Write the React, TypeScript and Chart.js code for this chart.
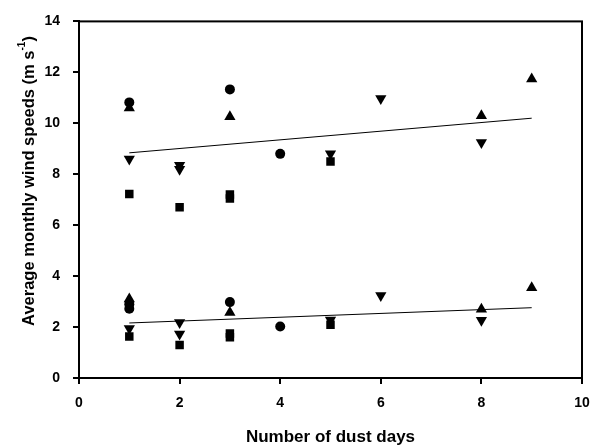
import React, { useEffect, useRef } from "react";
import { Chart, registerables } from "chart.js";

Chart.register(...registerables);

// Data
const circleX = [1, 3, 4, 1, 1, 3, 4];
const circleY = [10.82, 11.33, 8.8, 2.9, 2.72, 2.98, 2.02];

const triUpX = [1, 3, 8, 9, 1, 3, 8, 9];
const triUpY = [10.6, 10.26, 10.3, 11.74, 3.1, 2.57, 2.7, 3.54];

const triDownX = [1, 2, 2, 5, 6, 8, 1, 2, 2, 5, 6, 8];
const triDownY = [8.6, 8.35, 8.2, 8.8, 10.97, 9.25, 1.94, 2.18, 1.73, 2.28, 3.24, 2.27];

const squareX = [1, 2, 3, 3, 5, 1, 2, 3, 3, 5];
const squareY = [7.22, 6.7, 7.2, 7.05, 8.5, 1.63, 1.3, 1.75, 1.6, 2.09];

const upperFitX = [1, 9];
const upperFitY = [8.84, 10.2];
const lowerFitX = [1, 9];
const lowerFitY = [2.16, 2.76];

const xTicks = [0, 2, 4, 6, 8, 10];
const yTicks = [0, 2, 4, 6, 8, 10, 12, 14];

const xTitle = "Number of dust days";
const yTitleMain = "Average monthly wind speeds (m s";
const yTitleSup = "-1";
const yTitleEnd = ")";

const pts = (xs: number[], ys: number[]) => xs.map((x, i) => ({ x, y: ys[i] }));

const FONT = "'Liberation Sans', Arial, sans-serif";

export default function App() {
  const ref = useRef<HTMLCanvasElement>(null);

  useEffect(() => {
    if (!ref.current) return;

    const framePlugin = {
      id: "frame",
      afterDatasetsDraw(chart: any) {
        const { ctx, chartArea } = chart;
        ctx.save();
        ctx.strokeStyle = "#000";
        ctx.lineWidth = 2;
        ctx.strokeRect(chartArea.left, chartArea.top, chartArea.right - chartArea.left, chartArea.bottom - chartArea.top);
        ctx.restore();
      },
      afterDraw(chart: any) {
        const { ctx, chartArea } = chart;
        ctx.save();
        ctx.fillStyle = "#000";
        // x title
        ctx.font = `bold 17px ${FONT}`;
        ctx.textAlign = "center";
        ctx.textBaseline = "middle";
        ctx.fillText(xTitle, (chartArea.left + chartArea.right) / 2, 437);
        // y title with superscript
        ctx.translate(29, 181);
        ctx.rotate(-Math.PI / 2);
        const mainFont = `bold 16.5px ${FONT}`;
        const supFont = `bold 10px ${FONT}`;
        ctx.font = mainFont;
        const w1 = ctx.measureText(yTitleMain).width;
        const w3 = ctx.measureText(yTitleEnd).width;
        ctx.font = supFont;
        const w2 = ctx.measureText(yTitleSup).width;
        const total = w1 + w2 + w3;
        let x = -total / 2;
        ctx.textAlign = "left";
        ctx.font = mainFont;
        ctx.fillText(yTitleMain, x, 0);
        x += w1;
        ctx.font = supFont;
        ctx.fillText(yTitleSup, x, -7);
        x += w2;
        ctx.font = mainFont;
        ctx.fillText(yTitleEnd, x, 0);
        ctx.restore();
      },
    };

    const marker = { backgroundColor: "#000", borderColor: "#000", borderWidth: 0, showLine: false };

    const chart = new Chart(ref.current, {
      type: "scatter",
      data: {
        datasets: [
          { label: "fit upper", data: pts(upperFitX, upperFitY), showLine: true, borderColor: "#000", borderWidth: 1, pointRadius: 0, fill: false },
          { label: "fit lower", data: pts(lowerFitX, lowerFitY), showLine: true, borderColor: "#000", borderWidth: 1, pointRadius: 0, fill: false },
          { label: "circle", data: pts(circleX, circleY), pointStyle: "circle", pointRadius: 5, ...marker },
          { label: "triangle up", data: pts(triUpX, triUpY), pointStyle: "triangle", pointRadius: 6.5, ...marker },
          { label: "triangle down", data: pts(triDownX, triDownY), pointStyle: "triangle", pointRotation: 180, pointRadius: 6.5, ...marker },
          { label: "square", data: pts(squareX, squareY), pointStyle: "rect", pointRadius: 6, ...marker },
        ] as any,
      },
      options: {
        animation: false,
        responsive: false,
        events: [],
        layout: { padding: { top: 17, right: 20, left: 0, bottom: 0 } },
        plugins: { legend: { display: false }, tooltip: { enabled: false } },
        scales: {
          x: {
            type: "linear",
            min: 0,
            max: 10,
            afterBuildTicks: (s: any) => { s.ticks = xTicks.map((v) => ({ value: v })); },
            afterFit: (s: any) => { s.height = 67; },
            grid: { drawOnChartArea: false, drawTicks: true, tickLength: 6, color: "#000", lineWidth: 2 },
            border: { display: true, color: "#000", width: 2 },
            ticks: { color: "#000", font: { family: FONT, size: 14, weight: "bold" }, padding: 11, maxRotation: 0 },
          },
          y: {
            type: "linear",
            min: 0,
            max: 14,
            afterBuildTicks: (s: any) => { s.ticks = yTicks.map((v) => ({ value: v })); },
            afterFit: (s: any) => { s.width = 79; },
            grid: { drawOnChartArea: false, drawTicks: true, tickLength: 6, color: "#000", lineWidth: 2 },
            border: { display: true, color: "#000", width: 2 },
            ticks: { color: "#000", font: { family: FONT, size: 14, weight: "bold" }, padding: 13 },
          },
        },
      } as any,
      plugins: [framePlugin],
    });
    return () => chart.destroy();
  }, []);

  return (
    <div style={{ position: "fixed", left: 0, top: 0, width: 602, height: 445, background: "#fff" }}>
      <canvas ref={ref} width={602} height={445} style={{ width: 602, height: 445 }} />
    </div>
  );
}
